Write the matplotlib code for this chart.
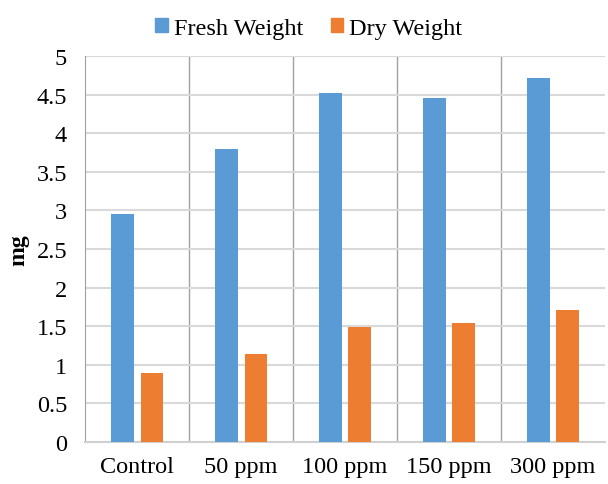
import numpy as np
import matplotlib.pyplot as plt
from matplotlib.patches import Patch

plt.rcParams['font.family'] = ['Liberation Serif', 'DejaVu Serif']

categories = ['Control', '50 ppm', '100 ppm', '150 ppm', '300 ppm']
fresh_weight = [2.95, 3.80, 4.52, 4.45, 4.71]
dry_weight = [0.89, 1.14, 1.49, 1.54, 1.71]

blue = '#5B9BD5'
orange = '#ED7D31'

fig = plt.figure(figsize=(6.08, 4.85), dpi=100)
ax = fig.add_axes([0.14, 0.0866, 0.855, 0.7959])

x = np.arange(len(categories))
ax.bar(x - 0.143, fresh_weight, width=0.22, color=blue, zorder=3)
ax.bar(x + 0.143, dry_weight, width=0.22, color=orange, zorder=3)

ax.set_xlim(-0.5, len(categories) - 0.5)
ax.set_ylim(0, 5)
ax.set_yticks(np.arange(0, 5.01, 0.5))
ax.set_yticklabels(['0', '0.5', '1', '1.5', '2', '2.5', '3', '3.5', '4', '4.5', '5'])
ax.set_xticks(x)
ax.set_xticklabels(categories)
ax.tick_params(axis='both', length=0, labelsize=17.5, colors='black')
ax.tick_params(axis='x', pad=10)
ax.tick_params(axis='y', pad=13)

ax.yaxis.grid(True, color='#d9d9d9', linewidth=1.5, zorder=0)
# category separators
for b in x[:-1] + 0.5:
    ax.axvline(b, color='#a0a0a0', linewidth=1.0, zorder=1)

for s in ['top', 'right']:
    ax.spines[s].set_visible(False)
ax.spines['left'].set_color('#a0a0a0')
ax.spines['bottom'].set_color('#d0d0d0')
ax.spines['bottom'].set_linewidth(1.5)

ax.set_ylabel('mg', fontsize=17, fontweight='bold', labelpad=5)

handles = [Patch(color=blue, label='Fresh Weight'), Patch(color=orange, label='Dry Weight')]
fig.legend(handles=handles, loc='center', bbox_to_anchor=(0.508, 0.94), ncol=2,
           frameon=False, fontsize=17.5, handlelength=0.5, handleheight=0.5,
           handletextpad=0.25, columnspacing=1.15)

fig.savefig('out.png', dpi=100)
